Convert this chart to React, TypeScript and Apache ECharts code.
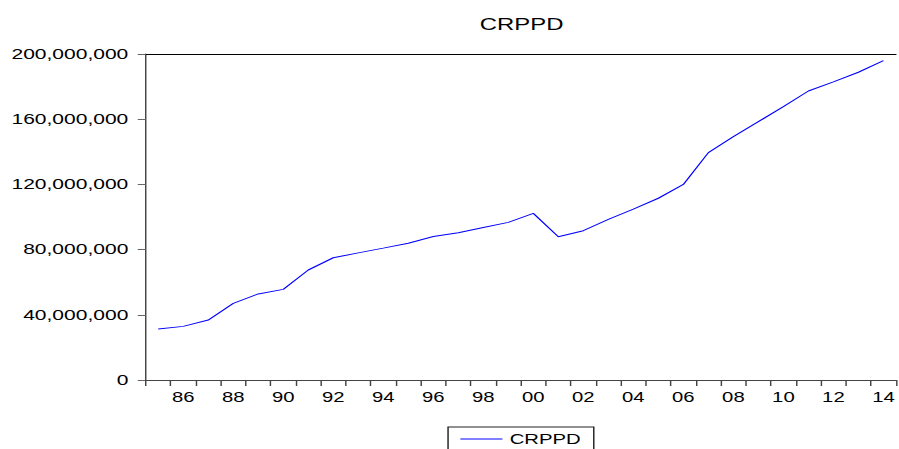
import React, { useEffect, useRef } from "react";
import * as echarts from "echarts";

const years: string[] = [
  "1985", "1986", "1987", "1988", "1989", "1990", "1991", "1992", "1993", "1994",
  "1995", "1996", "1997", "1998", "1999", "2000", "2001", "2002", "2003", "2004",
  "2005", "2006", "2007", "2008", "2009", "2010", "2011", "2012", "2013", "2014",
];

const crppd: number[] = [
  31300000, 32900000, 36800000, 47000000, 52800000, 55600000, 67500000, 75000000, 78000000, 80900000,
  83900000, 88000000, 90300000, 93500000, 96700000, 102200000, 87900000, 91600000, 98500000, 104800000,
  111500000, 120000000, 139500000, 149300000, 158500000, 167700000, 177300000, 182900000, 188800000, 195900000,
];

const yTicks: number[] = [0, 40000000, 80000000, 120000000, 160000000, 200000000];

const SCALE = 1.45;
const W = 899;
const H = 449;
const IW = W / SCALE;
const FONT = "'Liberation Sans', Arial, sans-serif";

function commas(v: number): string {
  return String(Math.round(v)).replace(/\B(?=(\d{3})+(?!\d))/g, ",");
}

export default function App() {
  const ref = useRef<HTMLDivElement>(null);

  useEffect(() => {
    if (!ref.current) return;
    const chart = echarts.init(ref.current, undefined, { renderer: "svg" });
    const gridLeft = 100.5;
    const gridRight = 0;
    const centerX = gridLeft + (IW - gridLeft - gridRight) / 2;
    chart.setOption({
      animation: false,
      backgroundColor: "#ffffff",
      title: {
        text: "CRPPD",
        left: centerX - 5.5,
        textAlign: "center",
        top: 10,
        textStyle: { fontFamily: FONT, fontSize: 16.5, fontWeight: "normal", color: "#000" },
      },
      legend: {
        data: ["CRPPD"],
        left: 309,
        top: 427,
        orient: "horizontal",
        itemWidth: 29,
        itemHeight: 14,
        padding: [5, 9, 5, 8],
        borderColor: "#222",
        borderWidth: 1,
        backgroundColor: "#fff",
        itemStyle: { opacity: 0 },
        lineStyle: { color: "#0000ff", width: 1, opacity: 1 },
        textStyle: { fontFamily: FONT, fontSize: 14, color: "#000" },
      },
      grid: { left: gridLeft, right: gridRight, top: 54, bottom: H - 380, containLabel: false },
      xAxis: [
        {
          type: "category",
          data: years,
          boundaryGap: true,
          position: "bottom",
          axisLine: { show: true, lineStyle: { color: "#444", width: 1 } },
          axisTick: { show: true, interval: 0, length: 6, alignWithLabel: false, lineStyle: { color: "#444" } },
          axisLabel: {
            interval: (i: number) => i % 2 === 1,
            formatter: (v: string) => v.slice(2),
            margin: 10,
            fontFamily: FONT,
            fontSize: 14,
            color: "#000",
          },
          splitLine: { show: false },
        },
        {
          type: "category",
          data: years,
          boundaryGap: true,
          position: "top",
          axisLine: { show: true, lineStyle: { color: "#000", width: 1 } },
          axisTick: { show: false },
          axisLabel: { show: false },
          splitLine: { show: false },
        },
      ],
      yAxis: {
        type: "value",
        min: yTicks[0],
        max: yTicks[yTicks.length - 1],
        interval: 40000000,
        axisLine: { show: true, lineStyle: { color: "#444", width: 1 } },
        axisTick: { show: true, length: 5.5, lineStyle: { color: "#666" } },
        axisLabel: {
          formatter: (v: number) => commas(v),
          margin: 12,
          fontFamily: FONT,
          fontSize: 14.5,
          color: "#000",
        },
        splitLine: { show: false },
      },
      series: [
        {
          name: "CRPPD",
          type: "line",
          data: crppd,
          symbol: "none",
          lineStyle: { color: "#0000ff", width: 1 },
          itemStyle: { color: "#0000ff" },
        },
      ],
    });
    return () => chart.dispose();
  }, []);

  return (
    <div style={{ position: "fixed", left: 0, top: 0, width: W, height: H, overflow: "hidden", background: "#fff" }}>
      <div
        ref={ref}
        style={{ width: IW, height: H, transform: `scaleX(${SCALE})`, transformOrigin: "0 0" }}
      />
    </div>
  );
}
